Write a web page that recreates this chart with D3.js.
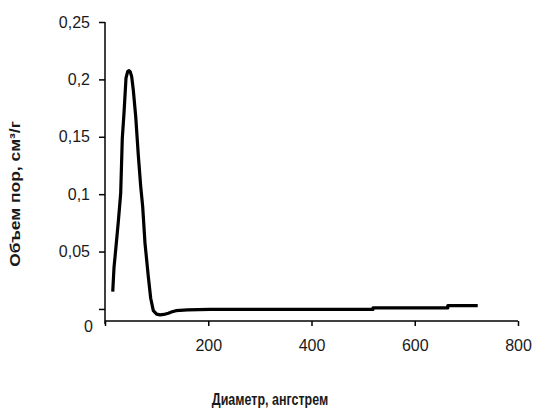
<!DOCTYPE html>
<html>
<head>
<meta charset="utf-8">
<script src="https://cdnjs.cloudflare.com/ajax/libs/d3/7.8.5/d3.min.js"></script>
<style>
  html, body { margin: 0; padding: 0; background: #fff; }
  svg { display: block; }
</style>
</head>
<body>
<svg id="chart" width="534" height="412"></svg>
<script>
// ---- data (diameter in angstrom, pore volume in cm3/g) ----
const diameter = [15, 17.4, 21.3, 25.8, 30.4, 33.5, 36.8, 40.7, 44, 46.5, 49, 51.7, 54.8, 59.5, 64.5, 69.2, 73, 77.5, 83.9, 88.5, 93.6, 100, 106.5, 114, 122.6, 130, 137.5, 160, 203, 300, 400, 519, 519, 600, 664, 664, 722];
const volume   = [0.0151, 0.0357, 0.0543, 0.076, 0.1008, 0.1487, 0.1707, 0.2012, 0.207, 0.2076, 0.2065, 0.2024, 0.1908, 0.1675, 0.1341, 0.1065, 0.0891, 0.0572, 0.0281, 0.0093, -0.0015, -0.0045, -0.0052, -0.0048, -0.0037, -0.0025, -0.0015, -0.0008, -0.0004, -0.0004, -0.0004, -0.0004, 0.0009, 0.0009, 0.0009, 0.0029, 0.0029];
const yTicks = [0.05, 0.1, 0.15, 0.2, 0.25];
const yTickLabels = ["0,05", "0,1", "0,15", "0,2", "0,25"];
const xTicks = [0, 200, 400, 600, 800];
const xTickLabels = ["", "200", "400", "600", "800"];
const xTitle = "Диаметр, ангстрем";
const yTitle = "Объем пор, см³/г";

const svg = d3.select("#chart");
const font = "'Liberation Sans', Arial, sans-serif";
const tickFont = 16;
const txtCol = "#1a1a1a";

const x = d3.scaleLinear().domain([0, 800]).range([105, 518]);
const y = d3.scaleLinear().domain([-0.0105, 0.25]).range([321, 22]);

// y axis
const yAxis = d3.axisLeft(y)
  .tickValues([0].concat(yTicks))
  .tickSize(6)
  .tickPadding(9)
  .tickFormat(d => { const i = yTicks.indexOf(d); return i >= 0 ? yTickLabels[i] : ""; });
const gy = svg.append("g").attr("transform", "translate(105,0)").call(yAxis);
gy.select(".domain").attr("d", `M0,${y(0.25)}V${y(-0.0105) + 3}`);
gy.selectAll("line, .domain").attr("stroke", "#000").attr("stroke-width", 1.5);
gy.selectAll("text").attr("font-family", font).attr("font-size", tickFont).attr("fill", txtCol);

// "0" label at the bottom of the value axis
svg.append("text")
  .attr("x", 93).attr("y", y(-0.0105) + 5)
  .attr("dy", "0.35em")
  .attr("text-anchor", "end")
  .attr("font-family", font).attr("font-size", tickFont).attr("fill", txtCol)
  .text("0");

// x axis
const xAxis = d3.axisBottom(x)
  .tickValues(xTicks)
  .tickSize(5)
  .tickPadding(14)
  .tickFormat((d, i) => xTickLabels[i]);
const gx = svg.append("g").attr("transform", `translate(0,${y(-0.0105)})`).call(xAxis);
gx.select(".domain").attr("d", `M${x(0)},0H${x(800)}`);
gx.selectAll("line, .domain").attr("stroke", "#000").attr("stroke-width", 1.5);
gx.selectAll("text").attr("font-family", font).attr("font-size", tickFont).attr("fill", txtCol);

// curve
const pts = diameter.map((d, i) => [d, volume[i]]);
svg.append("path")
  .datum(pts)
  .attr("fill", "none")
  .attr("stroke", "#000")
  .attr("stroke-width", 3.2)
  .attr("stroke-linejoin", "round")
  .attr("d", d3.line().x(d => x(d[0])).y(d => y(d[1])));

// titles (reference is stretched vertically)
svg.append("text")
  .attr("transform", "translate(270,405) scale(1,1.3)")
  .attr("text-anchor", "middle")
  .attr("font-family", font).attr("font-size", 12.5).attr("font-weight", "bold").attr("fill", txtCol)
  .text(xTitle);

svg.append("text")
  .attr("transform", "translate(20,194) scale(1.2,1.45) rotate(-90)")
  .attr("text-anchor", "middle")
  .attr("font-family", font).attr("font-size", 12).attr("font-weight", "bold").attr("fill", txtCol)
  .text(yTitle);
</script>
</body>
</html>
